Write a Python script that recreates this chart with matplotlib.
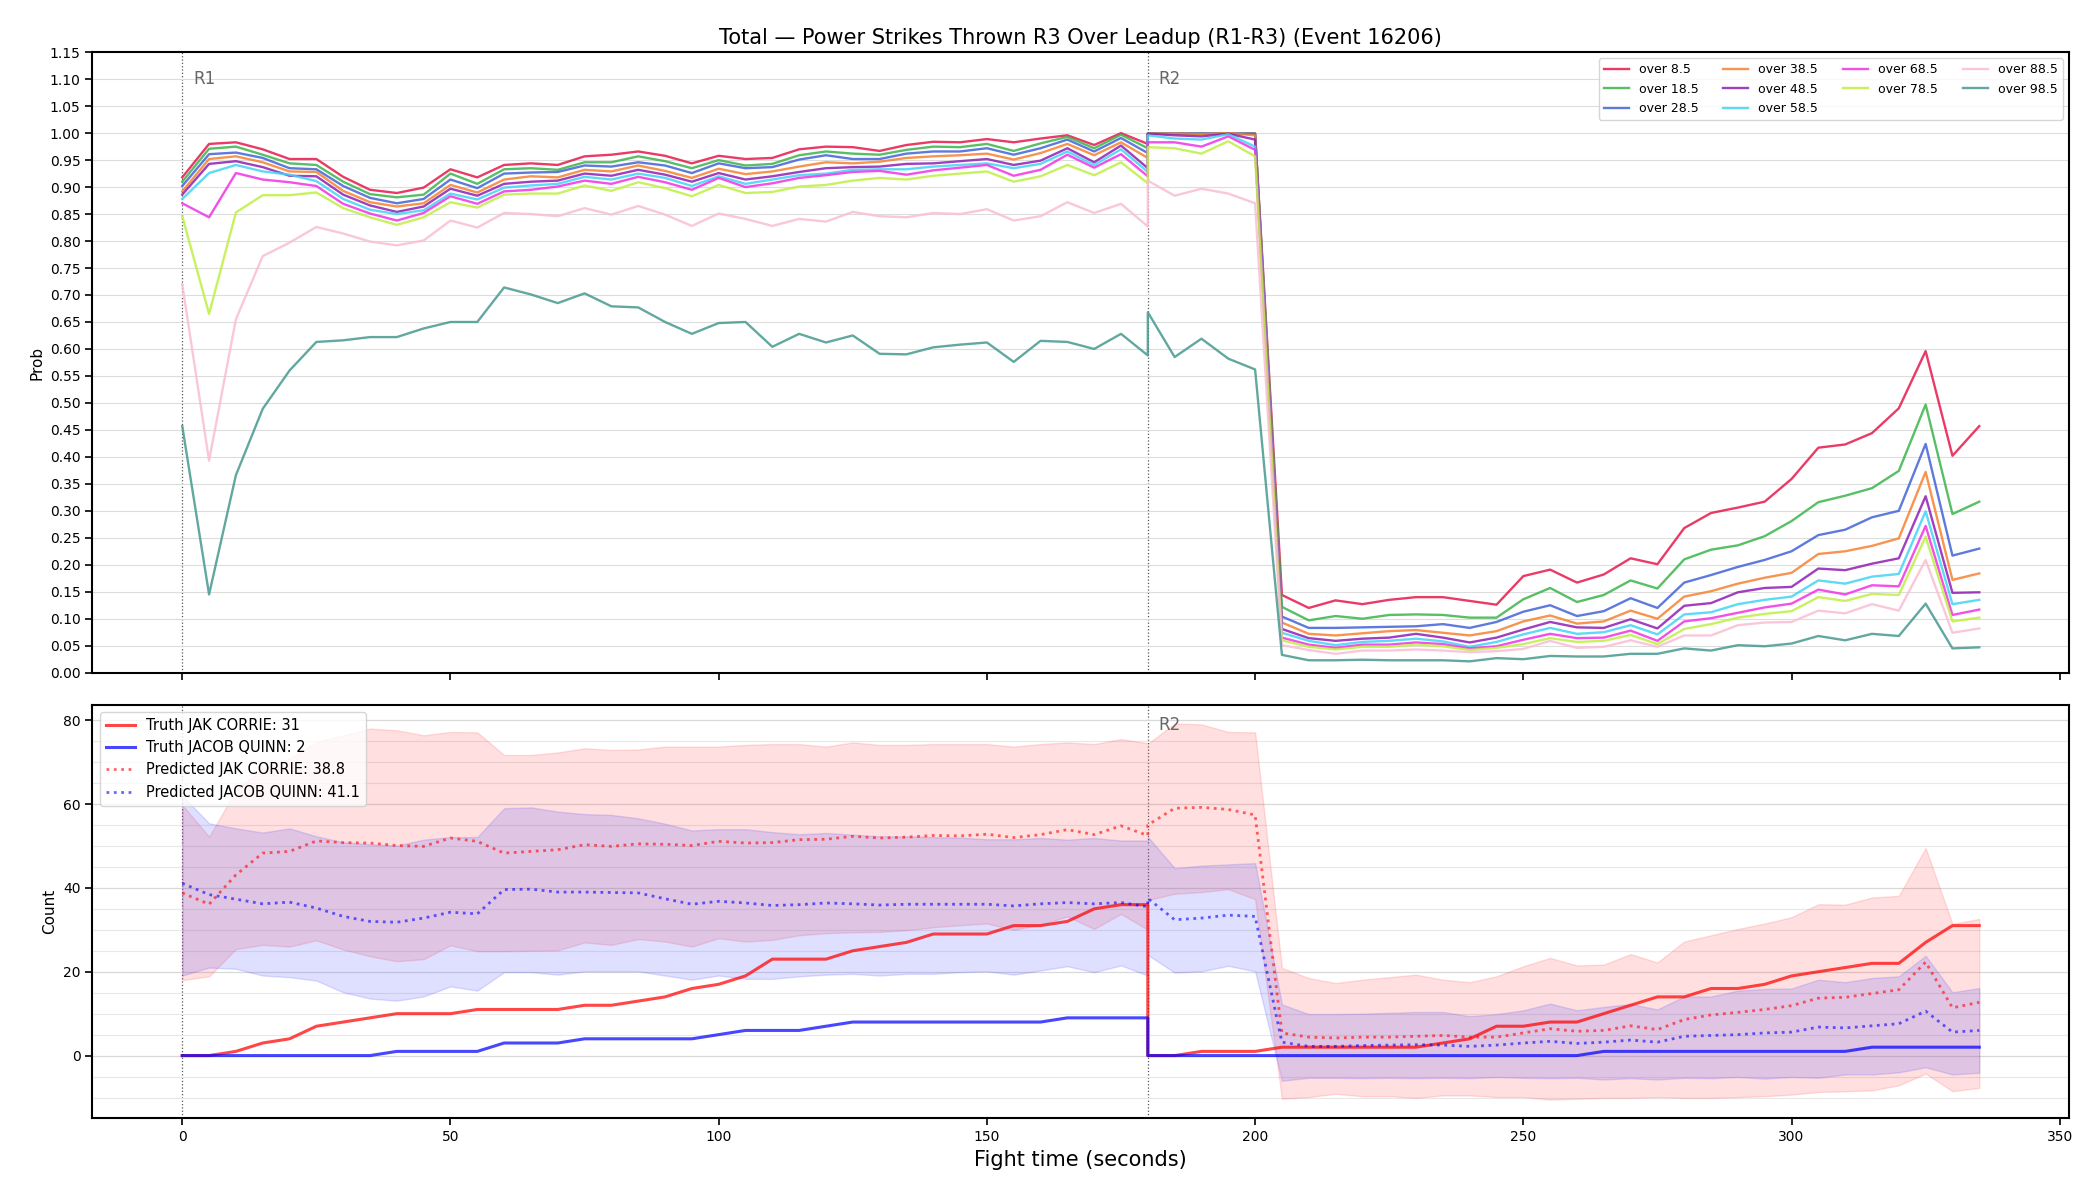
import numpy as np
import matplotlib
matplotlib.use("Agg")
import matplotlib.pyplot as plt
from matplotlib.ticker import MultipleLocator
import matplotlib.transforms as mtransforms

# time axis: round 1 and round 2 (both include t=180)
t_r1 = list(range(0, 181, 5))
t_r2 = list(range(180, 336, 5))

thresholds = ["8.5", "18.5", "28.5", "38.5", "48.5", "58.5", "68.5", "78.5", "88.5", "98.5"]
colors = ["#e6194b", "#3cb44b", "#4363d8", "#f58231", "#911eb4",
          "#42d4f4", "#f032e6", "#bfef45", "#fabed4", "#469990"]

# P(over X) -- round 1
p8_r1 = [0.918, 0.980, 0.983, 0.970, 0.952, 0.952, 0.919, 0.895, 0.889, 0.899, 0.933, 0.918, 0.941, 0.944, 0.941, 0.957, 0.960, 0.966, 0.958, 0.944,
         0.958, 0.952, 0.954, 0.970, 0.975, 0.974, 0.967, 0.978, 0.984, 0.983, 0.989, 0.983, 0.990, 0.996, 0.978, 1.000, 0.980]
p18_r1 = [0.910, 0.971, 0.975, 0.960, 0.944, 0.941, 0.910, 0.887, 0.881, 0.886, 0.925, 0.906, 0.933, 0.935, 0.932, 0.946, 0.946, 0.957, 0.948, 0.935,
          0.950, 0.940, 0.943, 0.959, 0.966, 0.962, 0.960, 0.969, 0.975, 0.974, 0.980, 0.967, 0.981, 0.993, 0.972, 0.997, 0.972]
p28_r1 = [0.902, 0.961, 0.964, 0.954, 0.935, 0.933, 0.902, 0.880, 0.870, 0.878, 0.914, 0.898, 0.925, 0.927, 0.928, 0.940, 0.938, 0.946, 0.940, 0.926,
          0.944, 0.935, 0.937, 0.951, 0.959, 0.952, 0.952, 0.962, 0.966, 0.966, 0.972, 0.960, 0.972, 0.988, 0.966, 0.991, 0.963]
p38_r1 = [0.892, 0.952, 0.957, 0.946, 0.929, 0.928, 0.893, 0.872, 0.864, 0.870, 0.904, 0.890, 0.914, 0.920, 0.918, 0.932, 0.929, 0.940, 0.930, 0.917,
          0.934, 0.924, 0.929, 0.938, 0.946, 0.944, 0.947, 0.954, 0.957, 0.959, 0.962, 0.951, 0.963, 0.980, 0.959, 0.983, 0.954]
p48_r1 = [0.886, 0.943, 0.948, 0.937, 0.921, 0.920, 0.886, 0.866, 0.854, 0.864, 0.897, 0.884, 0.906, 0.910, 0.912, 0.925, 0.921, 0.932, 0.923, 0.910,
          0.926, 0.914, 0.920, 0.928, 0.935, 0.937, 0.938, 0.943, 0.944, 0.948, 0.952, 0.941, 0.949, 0.972, 0.946, 0.977, 0.935]
p58_r1 = [0.878, 0.926, 0.941, 0.929, 0.923, 0.911, 0.878, 0.858, 0.850, 0.857, 0.888, 0.877, 0.899, 0.903, 0.906, 0.919, 0.914, 0.925, 0.917, 0.902,
          0.920, 0.906, 0.914, 0.922, 0.925, 0.932, 0.933, 0.933, 0.938, 0.941, 0.944, 0.935, 0.943, 0.966, 0.941, 0.970, 0.928]
p68_r1 = [0.870, 0.844, 0.926, 0.914, 0.909, 0.902, 0.869, 0.851, 0.838, 0.852, 0.883, 0.869, 0.892, 0.895, 0.901, 0.912, 0.906, 0.919, 0.909, 0.895,
          0.917, 0.900, 0.907, 0.917, 0.922, 0.928, 0.930, 0.923, 0.931, 0.936, 0.941, 0.921, 0.932, 0.960, 0.936, 0.961, 0.920]
p78_r1 = [0.846, 0.665, 0.853, 0.885, 0.885, 0.890, 0.861, 0.844, 0.830, 0.844, 0.872, 0.862, 0.886, 0.888, 0.888, 0.903, 0.893, 0.909, 0.898, 0.883,
          0.904, 0.889, 0.891, 0.901, 0.904, 0.912, 0.917, 0.914, 0.921, 0.925, 0.929, 0.910, 0.920, 0.941, 0.922, 0.946, 0.907]
p88_r1 = [0.720, 0.393, 0.655, 0.772, 0.797, 0.826, 0.814, 0.799, 0.792, 0.801, 0.838, 0.825, 0.852, 0.850, 0.846, 0.861, 0.849, 0.865, 0.849, 0.828,
          0.851, 0.841, 0.828, 0.841, 0.836, 0.854, 0.846, 0.844, 0.852, 0.850, 0.859, 0.838, 0.846, 0.872, 0.852, 0.869, 0.827]
p98_r1 = [0.457, 0.145, 0.366, 0.489, 0.560, 0.613, 0.616, 0.622, 0.622, 0.638, 0.650, 0.650, 0.714, 0.701, 0.685, 0.703, 0.679, 0.677, 0.650, 0.628,
          0.648, 0.650, 0.604, 0.628, 0.612, 0.625, 0.591, 0.590, 0.603, 0.608, 0.612, 0.576, 0.615, 0.613, 0.600, 0.628, 0.588]

# P(over X) -- round 2
p8_r2 = [0.999, 0.999, 0.999, 0.999, 0.999, 0.144, 0.120, 0.134, 0.127, 0.135, 0.140, 0.140, 0.133, 0.126, 0.179, 0.191, 0.167, 0.182,
         0.212, 0.201, 0.268, 0.296, 0.306, 0.317, 0.359, 0.417, 0.423, 0.444, 0.490, 0.596, 0.402, 0.457]
p18_r2 = [0.999, 0.999, 0.999, 0.999, 0.999, 0.122, 0.097, 0.105, 0.100, 0.107, 0.108, 0.107, 0.102, 0.102, 0.136, 0.157, 0.131, 0.144,
          0.171, 0.156, 0.210, 0.228, 0.236, 0.253, 0.281, 0.316, 0.328, 0.342, 0.374, 0.497, 0.294, 0.317]
p28_r2 = [0.999, 0.999, 0.999, 0.999, 0.999, 0.104, 0.083, 0.083, 0.084, 0.085, 0.086, 0.090, 0.083, 0.094, 0.113, 0.125, 0.105, 0.114,
          0.138, 0.120, 0.167, 0.181, 0.196, 0.209, 0.225, 0.255, 0.265, 0.288, 0.300, 0.424, 0.217, 0.230]
p38_r2 = [0.999, 0.999, 0.998, 1.000, 0.996, 0.093, 0.072, 0.069, 0.073, 0.077, 0.079, 0.074, 0.069, 0.077, 0.095, 0.106, 0.091, 0.095,
          0.115, 0.100, 0.141, 0.151, 0.165, 0.176, 0.185, 0.220, 0.225, 0.235, 0.249, 0.372, 0.172, 0.184]
p48_r2 = [0.999, 0.996, 0.994, 0.999, 0.988, 0.081, 0.064, 0.059, 0.063, 0.065, 0.072, 0.065, 0.056, 0.065, 0.080, 0.094, 0.084, 0.083,
          0.099, 0.082, 0.124, 0.129, 0.149, 0.157, 0.159, 0.193, 0.190, 0.202, 0.212, 0.327, 0.148, 0.149]
p58_r2 = [0.996, 0.990, 0.988, 0.998, 0.975, 0.074, 0.059, 0.051, 0.057, 0.059, 0.063, 0.058, 0.048, 0.057, 0.071, 0.083, 0.072, 0.075,
          0.088, 0.071, 0.108, 0.112, 0.127, 0.135, 0.141, 0.171, 0.165, 0.178, 0.183, 0.299, 0.127, 0.135]
p68_r2 = [0.983, 0.983, 0.975, 0.994, 0.969, 0.065, 0.052, 0.046, 0.052, 0.052, 0.056, 0.053, 0.045, 0.049, 0.061, 0.072, 0.064, 0.065,
          0.078, 0.059, 0.095, 0.101, 0.111, 0.121, 0.128, 0.154, 0.145, 0.162, 0.160, 0.272, 0.107, 0.117]
p78_r2 = [0.974, 0.972, 0.962, 0.985, 0.957, 0.060, 0.048, 0.043, 0.048, 0.048, 0.052, 0.049, 0.042, 0.046, 0.053, 0.064, 0.057, 0.059,
          0.070, 0.053, 0.081, 0.090, 0.102, 0.109, 0.114, 0.140, 0.133, 0.146, 0.144, 0.252, 0.095, 0.102]
p88_r2 = [0.912, 0.884, 0.897, 0.888, 0.870, 0.051, 0.042, 0.035, 0.041, 0.041, 0.043, 0.041, 0.038, 0.040, 0.044, 0.059, 0.046, 0.048,
          0.060, 0.048, 0.069, 0.069, 0.088, 0.093, 0.094, 0.115, 0.110, 0.127, 0.115, 0.209, 0.074, 0.082]
p98_r2 = [0.668, 0.585, 0.619, 0.582, 0.562, 0.033, 0.023, 0.023, 0.024, 0.023, 0.023, 0.023, 0.021, 0.027, 0.025, 0.031, 0.030, 0.030,
          0.035, 0.035, 0.045, 0.041, 0.051, 0.049, 0.054, 0.068, 0.060, 0.072, 0.068, 0.128, 0.045, 0.047]

probs_r1 = [p8_r1, p18_r1, p28_r1, p38_r1, p48_r1, p58_r1, p68_r1, p78_r1, p88_r1, p98_r1]
probs_r2 = [p8_r2, p18_r2, p28_r2, p38_r2, p48_r2, p58_r2, p68_r2, p78_r2, p88_r2, p98_r2]

# counts
truth_red_r1 = [0, 0, 1, 3, 4, 7, 8, 9, 10, 10, 10, 11, 11, 11, 11, 12, 12, 13, 14, 16,
                17, 19, 23, 23, 23, 25, 26, 27, 29, 29, 29, 31, 31, 32, 35, 36, 36]
truth_red_r2 = [0, 0, 1, 1, 1, 2, 2, 2, 2, 2, 2, 3, 4, 7, 7, 8, 8, 10, 12, 14, 14, 16,
                16, 17, 19, 20, 21, 22, 22, 27, 31, 31]
truth_blue_r1 = [0, 0, 0, 0, 0, 0, 0, 0, 1, 1, 1, 1, 3, 3, 3, 4, 4, 4, 4, 4,
                 5, 6, 6, 6, 7, 8, 8, 8, 8, 8, 8, 8, 8, 9, 9, 9, 9]
truth_blue_r2 = [0, 0, 0, 0, 0, 0, 0, 0, 0, 0, 0, 0, 0, 0, 0, 0, 0, 1, 1, 1, 1, 1,
                 1, 1, 1, 1, 1, 2, 2, 2, 2, 2]

pred_red_r1 = [38.8, 36.1, 43.1, 48.3, 48.7, 51.2, 50.8, 50.7, 50.1, 49.9, 51.9, 51.1, 48.3, 48.7, 49.1, 50.3, 49.9, 50.5, 50.4, 50.1,
               51.1, 50.7, 50.8, 51.5, 51.6, 52.3, 51.9, 52.1, 52.5, 52.4, 52.8, 52.0, 52.7, 53.9, 52.7, 54.8, 52.5]
pred_red_r2 = [55.0, 59.0, 59.2, 58.7, 57.4, 5.4, 4.4, 4.2, 4.4, 4.4, 4.6, 4.8, 4.4, 4.4, 5.4, 6.4, 5.8, 6.0,
               7.1, 6.2, 8.6, 9.7, 10.3, 11.0, 11.9, 13.7, 13.9, 14.8, 15.7, 22.3, 11.4, 12.7]
pred_blue_r1 = [41.1, 38.4, 37.3, 36.2, 36.6, 35.2, 33.2, 32.0, 31.8, 32.8, 34.2, 33.8, 39.6, 39.7, 39.0, 39.0, 38.9, 38.8, 37.4, 36.1,
                36.8, 36.4, 35.8, 36.0, 36.4, 36.2, 35.9, 36.1, 36.1, 36.1, 36.1, 35.7, 36.2, 36.5, 36.2, 36.5, 35.5]
pred_blue_r2 = [37.5, 32.4, 32.8, 33.5, 33.2, 3.2, 2.2, 2.2, 2.4, 2.5, 2.6, 2.5, 2.2, 2.5, 3.0, 3.4, 2.9, 3.2,
                3.7, 3.2, 4.6, 4.8, 5.0, 5.4, 5.6, 6.8, 6.6, 7.1, 7.6, 10.6, 5.6, 6.0]

red_hi_r1 = [59.8, 52.2, 63.3, 68.5, 70.9, 74.8, 76.4, 78.0, 77.6, 76.4, 77.2, 77.1, 71.7, 71.7, 72.3, 73.3, 72.9, 73.0, 73.7, 73.7,
             73.7, 74.1, 74.3, 74.3, 73.7, 74.7, 74.1, 74.1, 74.3, 74.3, 74.3, 73.7, 74.3, 74.7, 74.3, 75.5, 74.5]
red_hi_r2 = [74.4, 79.2, 79.0, 77.2, 77.1, 20.9, 18.5, 17.3, 18.1, 18.7, 19.3, 18.1, 17.5, 18.9, 21.3, 23.3, 21.5, 21.7,
             24.2, 22.2, 27.2, 28.7, 30.2, 31.5, 33.0, 36.1, 36.0, 37.7, 38.1, 49.5, 31.4, 32.6]
red_lo_r1 = [18.0, 18.9, 25.4, 26.4, 26.0, 27.5, 25.3, 23.7, 22.5, 23.0, 26.3, 24.9, 24.9, 25.0, 25.1, 27.0, 26.4, 27.8, 27.2, 26.0,
             28.0, 27.2, 27.6, 28.7, 29.2, 29.4, 29.5, 29.9, 30.6, 31.1, 31.5, 30.0, 31.2, 33.2, 30.2, 33.8, 30.0]
red_lo_r2 = [37.1, 38.6, 39.0, 39.7, 37.3, -10.3, -9.9, -9.1, -9.7, -9.7, -10.1, -9.5, -9.5, -9.9, -9.9, -10.5, -10.3, -10.1,
             -10.1, -9.9, -10.1, -10.1, -9.9, -9.7, -9.3, -8.7, -8.5, -8.3, -7.1, -4.3, -8.5, -7.7]
blue_hi_r1 = [62.0, 55.4, 54.2, 53.2, 54.2, 52.3, 50.9, 50.4, 50.1, 51.5, 52.1, 52.1, 59.0, 59.2, 58.2, 57.6, 57.4, 56.6, 55.3, 53.7,
              54.0, 54.0, 53.3, 52.8, 53.1, 52.7, 52.3, 52.3, 52.1, 52.0, 51.6, 51.6, 51.9, 51.5, 51.9, 51.3, 51.3]
blue_hi_r2 = [52.2, 44.7, 45.3, 45.6, 45.9, 12.2, 9.9, 9.9, 10.0, 10.2, 10.4, 10.4, 9.4, 9.9, 10.8, 12.4, 10.8, 11.6,
              12.3, 11.0, 14.1, 14.1, 15.5, 15.9, 16.0, 18.1, 17.5, 18.5, 18.9, 23.8, 15.1, 16.1]
blue_lo_r1 = [19.1, 21.0, 20.7, 19.1, 18.7, 17.9, 15.1, 13.6, 13.1, 14.1, 16.5, 15.5, 19.9, 19.9, 19.3, 20.1, 20.1, 20.1, 19.1, 18.1,
              19.1, 18.3, 18.3, 18.9, 19.3, 19.5, 19.1, 19.5, 19.5, 19.9, 20.1, 19.3, 20.3, 21.3, 19.9, 21.5, 19.1]
blue_lo_r2 = [24.0, 19.8, 20.1, 21.4, 20.1, -6.0, -5.3, -5.3, -5.4, -5.3, -5.4, -5.3, -5.4, -5.1, -5.3, -5.4, -5.3, -5.7,
              -5.4, -5.7, -5.3, -5.4, -5.1, -5.5, -5.1, -5.3, -4.5, -4.5, -4.0, -2.8, -4.5, -4.1]

round_starts = [0, 180]
round_names = ["R1", "R2"]

t = np.array(t_r1 + t_r2)

fig = plt.figure(figsize=(21, 12), dpi=100)
gs = fig.add_gridspec(2, 1, height_ratios=[3, 2], left=0.044, right=0.9853,
                      top=0.9565, bottom=0.068, hspace=0.062)
ax1 = fig.add_subplot(gs[0])
ax2 = fig.add_subplot(gs[1], sharex=ax1)

# top: probabilities
for name, col, a, b in zip(thresholds, colors, probs_r1, probs_r2):
    ax1.plot(t, a + b, color=col, lw=1.7, alpha=0.85, label="over " + name)

ax1.set_ylim(0, 1.15)
ax1.yaxis.set_major_locator(MultipleLocator(0.05))
ax1.grid(axis="y", color="#dddddd", lw=0.8)
ax1.set_ylabel("Prob", fontsize=11)
ax1.set_title("Total \u2014 Power Strikes Thrown R3 Over Leadup (R1-R3) (Event 16206)", fontsize=15)
ax1.legend(loc="upper right", ncol=4, fontsize=9)
plt.setp(ax1.get_xticklabels(), visible=False)

# bottom: counts
ax2.fill_between(t, red_lo_r1 + red_lo_r2, red_hi_r1 + red_hi_r2, color="#ff4444", alpha=0.17)
ax2.fill_between(t, blue_lo_r1 + blue_lo_r2, blue_hi_r1 + blue_hi_r2, color="#4444ff", alpha=0.17)
ax2.plot(t, truth_red_r1 + truth_red_r2, color="#ff0000", lw=2.2, alpha=0.72, label="Truth JAK CORRIE: 31")
ax2.plot(t, truth_blue_r1 + truth_blue_r2, color="#0000ff", lw=2.2, alpha=0.72, label="Truth JACOB QUINN: 2")
ax2.plot(t, pred_red_r1 + pred_red_r2, color="#ff0000", lw=2, ls=":", alpha=0.6, label="Predicted JAK CORRIE: 38.8")
ax2.plot(t, pred_blue_r1 + pred_blue_r2, color="#0000ff", lw=2, ls=":", alpha=0.6, label="Predicted JACOB QUINN: 41.1")

ax2.yaxis.set_major_locator(MultipleLocator(20))
ax2.yaxis.set_minor_locator(MultipleLocator(5))
ax2.tick_params(axis="y", which="minor", length=0)
ax2.grid(axis="y", which="major", color="#d8d8d8", lw=0.9)
ax2.grid(axis="y", which="minor", color="#e8e8e8", lw=0.8)
ax2.set_ylabel("Count", fontsize=11)
ax2.set_xlabel("Fight time (seconds)", fontsize=15)
ax2.legend(loc="upper left", fontsize=10.5)

# round markers (R1 label in the lower panel sits under the legend, so only R2 there)
for ax, names in ((ax1, round_names), (ax2, ["", "R2"])):
    trans = mtransforms.blended_transform_factory(ax.transData, ax.transAxes)
    for x0, nm in zip(round_starts, names):
        ax.axvline(x0, color="#555555", ls=":", lw=0.9, zorder=0.5)
        if nm:
            ax.text(x0 + 2, 0.972, nm, transform=trans, color="#666666", fontsize=12, va="top", ha="left")

for ax in (ax1, ax2):
    ax.set_axisbelow(True)
    for sp in ax.spines.values():
        sp.set_linewidth(1.5)
    ax.tick_params(width=1.2, length=5)

fig.savefig("out.png", dpi=100)
